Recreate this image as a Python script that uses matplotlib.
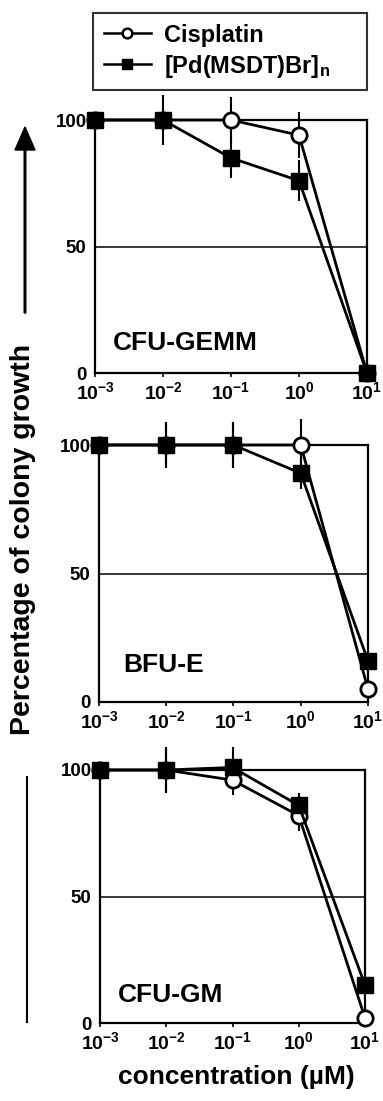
import matplotlib
matplotlib.use("Agg")
import matplotlib.pyplot as plt
from matplotlib.lines import Line2D
from matplotlib.patches import FancyArrow

plt.rcParams['font.family'] = ['Liberation Sans', 'DejaVu Sans']
plt.rcParams['font.weight'] = 'bold'
plt.rcParams['mathtext.fontset'] = 'custom'
plt.rcParams['mathtext.rm'] = 'Liberation Sans:bold'
plt.rcParams['mathtext.bf'] = 'Liberation Sans:bold'
plt.rcParams['mathtext.it'] = 'Liberation Sans:bold'

# ---- data ----
conc = [1e-3, 1e-2, 1e-1, 1e0, 1e1]
xtick_labels = [r'$\mathbf{10^{-3}}$', r'$\mathbf{10^{-2}}$', r'$\mathbf{10^{-1}}$',
                r'$\mathbf{10^{0}}$', r'$\mathbf{10^{1}}$']
ytick_vals = [0, 50, 100]
panel_names = ['CFU-GEMM', 'BFU-E', 'CFU-GM']

cis_gemm = [100, 100, 100, 94, 0]
cis_gemm_err = [0, 0, 9, 9, 0]
pd_gemm = [100, 100, 85, 76, 0]
pd_gemm_err = [0, 10, 8, 8, 0]

cis_bfue = [100, 100, 100, 100, 5]
cis_bfue_err = [0, 9, 9, 10, 0]
pd_bfue = [100, 100, 100, 89, 16]
pd_bfue_err = [0, 9, 9, 6, 0]

cis_gm = [100, 100, 96, 82, 2]
cis_gm_err = [0, 9, 6, 6, 0]
pd_gm = [100, 100, 101, 86, 15]
pd_gm_err = [0, 9, 8, 5, 0]

cis_series = [cis_gemm, cis_bfue, cis_gm]
cis_errs = [cis_gemm_err, cis_bfue_err, cis_gm_err]
pd_series = [pd_gemm, pd_bfue, pd_gm]
pd_errs = [pd_gemm_err, pd_bfue_err, pd_gm_err]

W, H = 383, 1101
fig = plt.figure(figsize=(W / 100, H / 100), dpi=100)

# axes boxes in pixels: left, right, top, bottom
boxes = [(95, 367, 120, 373), (99, 368, 445, 702), (100, 365, 770, 1023)]
label_pos = [(113, 343), (123, 665), (118, 995)]

for i, (l, r, t, b) in enumerate(boxes):
    ax = fig.add_axes([l / W, 1 - b / H, (r - l) / W, (b - t) / H])
    ax.set_xscale('log')
    ax.set_xlim(1e-3, 1e1)
    ax.set_ylim(0, 100)
    for s in ax.spines.values():
        s.set_linewidth(1.6)
    ax.axhline(50, color='black', lw=1.1, zorder=1)
    ax.set_xticks(conc)
    ax.set_xticklabels(xtick_labels, fontsize=14)
    ax.minorticks_off()
    ax.set_yticks(ytick_vals)
    ax.set_yticklabels([str(v) for v in ytick_vals], fontsize=13.5, fontweight='bold')
    ax.tick_params(axis='y', length=0, pad=6)
    ax.tick_params(axis='x', length=3, width=1.2, direction='out', pad=3)

    ax.errorbar(conc, cis_series[i], yerr=cis_errs[i], fmt='none', ecolor='black',
                elinewidth=1.5, capsize=0, zorder=2, clip_on=False)
    ax.errorbar(conc, pd_series[i], yerr=pd_errs[i], fmt='none', ecolor='black',
                elinewidth=1.5, capsize=0, zorder=2, clip_on=False)
    ax.plot(conc, cis_series[i], color='black', lw=2, marker='o', ms=11,
            mfc='white', mec='black', mew=2, zorder=3, clip_on=False)
    ax.plot(conc, pd_series[i], color='black', lw=2, marker='s', ms=11,
            mfc='black', mec='black', zorder=4, clip_on=False)
    lx, ly = label_pos[i]
    fig.text(lx / W, 1 - ly / H, panel_names[i], fontsize=19, fontweight='bold',
             ha='left', va='center')

# legend
handles = [Line2D([], [], color='black', lw=1.8, marker='o', ms=7, mfc='white', mec='black', mew=1.8),
           Line2D([], [], color='black', lw=1.8, marker='s', ms=7, mfc='black', mec='black')]
labels = ['Cisplatin', r'[Pd(MSDT)Br]$_\mathbf{n}$']
leg = fig.legend(handles, labels, loc='upper left',
                 bbox_to_anchor=(93 / W, 1 - 87 / H, 274 / W, 74 / H), mode='expand',
                 borderaxespad=0, fancybox=False, frameon=True, edgecolor='black',
                 fontsize=17, handlelength=2.0, handletextpad=0.55, borderpad=0.45,
                 labelspacing=0.25)
leg.get_frame().set_linewidth(1.5)
for txt in leg.get_texts():
    txt.set_fontweight('bold')

# y label with arrow and line
fig.text(23 / W, 1 - 539 / H, 'Percentage of colony growth', rotation=90, fontsize=20.5,
         fontweight='bold', ha='center', va='center')
fig.add_artist(FancyArrow(25 / W, 1 - 313 / H, 0, (313 - 150) / H,
               width=1.6 / W, head_width=20 / W, head_length=23 / H, length_includes_head=False,
               color='black', transform=fig.transFigure))
fig.add_artist(Line2D([27 / W, 27 / W], [1 - 777 / H, 1 - 1022 / H], color='black', lw=1.5,
                      transform=fig.transFigure))

fig.text(236 / W, 1 - 1077 / H, 'concentration (\u00b5M)', fontsize=19, fontweight='bold',
         ha='center', va='center')

fig.savefig('out.png', dpi=100)
